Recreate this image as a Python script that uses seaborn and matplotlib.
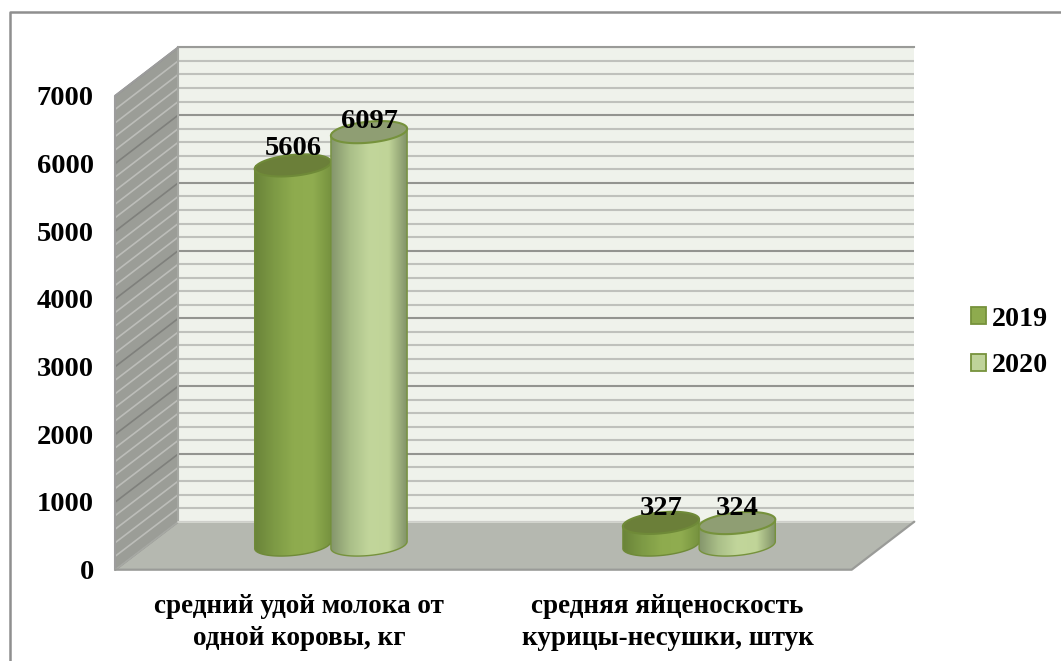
import numpy as np
import pandas as pd
import matplotlib
matplotlib.use("Agg")
import matplotlib.pyplot as plt
import seaborn as sns
from matplotlib.colors import LinearSegmentedColormap
from matplotlib.patches import Polygon

categories = ["средний удой молока от\nодной коровы, кг", "средняя яйценоскость\nкурицы-несушки, штук"]
years = ["2019", "2020"]
values_2019 = [5606, 327]
values_2020 = [6097, 324]
major_ticks = [0, 1000, 2000, 3000, 4000, 5000, 6000, 7000]
minor_ticks = [200, 400, 600, 800, 1200, 1400, 1600, 1800, 2200, 2400, 2600, 2800, 3200, 3400,
               3600, 3800, 4200, 4400, 4600, 4800, 5200, 5400, 5600, 5800, 6200, 6400, 6600, 6800]

W, H = 1061, 661
Y_MAX = 7000
Y_BELOW = 500
FRONT_X = (115.3, 851.7)
FRONT_Y = (569.7, 95.7)
BACK_X = (178.3, 914.3)
BACK_Y = (521.7, 47.3)
MID_X = (146.8, 883.2)
MID_Y0 = 545.0
PX_PER_UNIT = (FRONT_Y[0] - FRONT_Y[1]) / Y_MAX
FONT = ["Liberation Serif", "DejaVu Serif"]

sns.set_theme(style="white")
plt.rcParams["font.family"] = FONT
plt.rcParams["font.weight"] = "bold"


def add_ax(fig, x, y0, y1, z):
    # axes from pixel box, y0 is the bottom edge and y1 the top edge
    ax = fig.add_axes([x[0] / W, 1 - y0 / H, (x[1] - x[0]) / W, (y0 - y1) / H], zorder=z)
    ax.patch.set_alpha(0)
    for s in ax.spines.values():
        s.set_visible(False)
    ax.set_ylim(0, Y_MAX)
    return ax


fig = plt.figure(figsize=(W / 100, H / 100), dpi=100, facecolor="white")

# back wall
back = add_ax(fig, BACK_X, BACK_Y[0], BACK_Y[1], 1)
back.patch.set_alpha(1)
back.set_facecolor("#eff2eb")
back.set_xticks([])
back.set_yticks(major_ticks)
back.set_yticks(minor_ticks, minor=True)
back.tick_params(which="both", length=0, labelleft=False)
back.grid(True, which="major", axis="y", color="#939490", lw=1.5)
back.grid(True, which="minor", axis="y", color="#bfc1bc", lw=1.5)
back.spines["top"].set_visible(True)
back.spines["top"].set_color("#9a9b98")
back.spines["top"].set_linewidth(1.5)

# floor, side wall and outer frame in pixel coords
shell = fig.add_axes([0, 0, 1, 1], zorder=2)
shell.set_xlim(0, W)
shell.set_ylim(H, 0)
shell.axis("off")
shell.patch.set_alpha(0)
# the frame only shows on the left and on top, the rest is cut off
shell.plot([10, 10, W], [H, 12, 12], color="#8f8f8f", lw=1.8, clip_on=False)
shell.add_patch(Polygon([(FRONT_X[0], FRONT_Y[0]), (FRONT_X[1], FRONT_Y[0]), (BACK_X[1], BACK_Y[0]), (BACK_X[0], BACK_Y[0])],
                        fc="#b5b8b0", ec="none"))
shell.add_patch(Polygon([(FRONT_X[0], FRONT_Y[1]), (BACK_X[0], BACK_Y[1]), (BACK_X[0], BACK_Y[0]), (FRONT_X[0], FRONT_Y[0])],
                        fc="#9b9d97", ec="none"))
for ticks, col in [(minor_ticks, "#bcbdb9"), (major_ticks, "#7f807c")]:
    for v in ticks:
        shell.plot(FRONT_X[0:1] + BACK_X[0:1],
                   [FRONT_Y[0] - v * PX_PER_UNIT, BACK_Y[0] - v * (BACK_Y[0] - BACK_Y[1]) / Y_MAX],
                   color=col, lw=1.2, solid_capstyle="butt")
shell.plot([FRONT_X[0], FRONT_X[0]], FRONT_Y, color="#9c9c9c", lw=1.5)
shell.plot([BACK_X[0], BACK_X[0]], BACK_Y, color="#a6a8a3", lw=1.5)
shell.plot([FRONT_X[0], BACK_X[0]], [FRONT_Y[0], BACK_Y[0]], color="#a6a8a3", lw=1.5)
shell.plot([FRONT_X[0], BACK_X[0]], [FRONT_Y[1], BACK_Y[1]], color="#9c9c9c", lw=1.5)
shell.plot([BACK_X[0], BACK_X[1]], [BACK_Y[0], BACK_Y[0]], color="#d8dad4", lw=1.2)
shell.plot([FRONT_X[0], FRONT_X[1], BACK_X[1]], [FRONT_Y[0], FRONT_Y[0], BACK_Y[0]], color="#9a9b98", lw=1.6)

# front plane only carries the tick labels
front = add_ax(fig, FRONT_X, FRONT_Y[0], FRONT_Y[1], 3)
front.set_xlim(-0.5, 1.5)
front.set_xticks([0, 1])
front.set_xticklabels(categories, fontsize=19.5, fontweight="bold", linespacing=1.38)
front.set_yticks(major_ticks)
front.set_yticklabels([str(t) for t in major_ticks], fontsize=20.5, fontweight="bold")
front.tick_params(axis="y", length=4.5, width=1.4, color="#8c8c8c", pad=11, labelcolor="black")
front.tick_params(axis="x", length=0, pad=17.5, labelcolor="black")

# bars stand in the middle of the floor, axes reaches a bit under 0 for the round bottoms
ax = add_ax(fig, MID_X, MID_Y0 + Y_BELOW * PX_PER_UNIT, MID_Y0 - Y_MAX * PX_PER_UNIT, 4)
df = pd.DataFrame({
    "category": categories * 2,
    "year": [years[0]] * 2 + [years[1]] * 2,
    "value": values_2019 + values_2020,
})
sns.barplot(data=df, x="category", y="value", hue="year", order=categories, hue_order=years,
            palette={"2019": "#8eab4e", "2020": "#bfd39a"}, saturation=1, width=0.414, gap=0, dodge=True,
            edgecolor="#76923c", linewidth=0, ax=ax)
sns.move_legend(ax, "center left", bbox_to_anchor=(971 / W, 1 - 342.5 / H), bbox_transform=fig.transFigure,
                title=None, frameon=False, fontsize=20.2, ncol=1, handlelength=0.54, handleheight=0.54,
                handletextpad=0.2, labelspacing=0.77, borderpad=0, borderaxespad=0)
for t in ax.get_legend().get_texts():
    t.set_fontweight("bold")
    t.set_color("black")
for h in ax.get_legend().legend_handles:
    h.set_edgecolor("#76923c")
    h.set_linewidth(1.3)

side_cmaps = [
    LinearSegmentedColormap.from_list("c19", ["#6a8439", "#7d9a45", "#8eab4e", "#90ad50", "#75913e"]),
    LinearSegmentedColormap.from_list("c20", ["#84956b", "#aabf88", "#c2d69b", "#c0d498", "#7e8f66"]),
]
top_colors = ["#6b7f39", "#8f9e73"]
rim_colors = ["#6f8a38", "#76923c"]
ell = 10.5 / PX_PER_UNIT
tilt = 3.5 / PX_PER_UNIT
t = np.linspace(0, 2 * np.pi, 121)
label_dy = [[17, 14], [11, 15]]

for i, cont in enumerate(ax.containers):
    for j, bar in enumerate(cont):
        x0, w, h = bar.get_x(), bar.get_width(), bar.get_height()
        cx = x0 + w / 2
        ex = cx + w / 2 * np.cos(t)
        ey = ell * np.sin(t) + tilt * np.cos(t)
        lower = t[60:]  # pi..2pi goes along the underside
        body = np.column_stack([cx + w / 2 * np.cos(lower), ell * np.sin(lower) + tilt * np.cos(lower)])
        body = np.vstack([body, [cx + w / 2, h + tilt], [x0, h - tilt]])
        clip = Polygon(body, transform=ax.transData)
        grad = np.linspace(0, 1, 256).reshape(1, -1)
        im = ax.imshow(grad, cmap=side_cmaps[i], extent=(x0, x0 + w, -ell * 1.5, h + ell), aspect="auto",
                       zorder=3 + i * 2 + j * 0.1, interpolation="bilinear")
        im.set_clip_path(clip)
        ax.add_patch(Polygon(body, fill=False, ec=rim_colors[i], lw=1, zorder=3 + i * 2 + j * 0.1))
        ax.add_patch(Polygon(np.column_stack([ex, h + ey]), fc=top_colors[i], ec=rim_colors[i], lw=1.5,
                             zorder=4 + i * 2 + j * 0.1))
        ax.annotate(f"{h:.0f}", (cx, h), xytext=(0, label_dy[i][j] * 0.72), textcoords="offset points",
                    ha="center", va="center", fontsize=20.5, fontweight="bold", color="black", zorder=10)

ax.set_xlim(-0.5, 1.5)
ax.set_ylim(-Y_BELOW, Y_MAX)
ax.set_xticks([])
ax.set_yticks([])
ax.set_xlabel("")
ax.set_ylabel("")

fig.savefig("out.png", dpi=100)
plt.close(fig)
